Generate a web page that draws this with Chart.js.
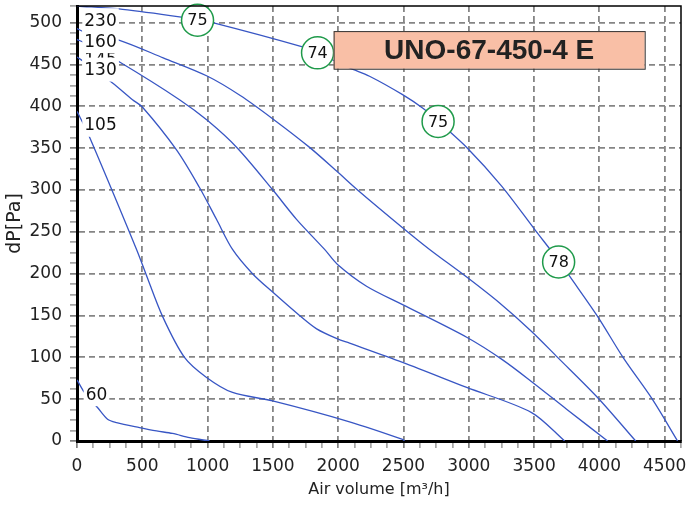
<!DOCTYPE html>
<html>
<head>
<meta charset="utf-8">
<script src="https://cdn.jsdelivr.net/npm/chart.js@4.4.1/dist/chart.umd.min.js"></script>
<style>
    html, body { margin: 0; padding: 0; background: #fff; }
</style>
</head>
<body>
<canvas id="curvasChart" width="700" height="508"></canvas>
<script>
// Curvas de presión por velocidad (caudal m³/h, presión Pa)
const curvaNombres = ['230', '160', '145', '130', '105', '60'];

const caudal230 = [0, 349, 785, 923, 1038, 1727, 1842, 2087, 2240, 2493, 2646, 2765, 2990, 3250, 3504, 3696, 3772, 3986, 4185, 4405, 4599];
const presion230 = [520, 516, 507, 503, 500, 471, 464, 446, 436, 414, 398, 382, 350, 305, 253, 214, 197, 149, 99, 50, 0];

const caudal160 = [0, 57, 326, 660, 1000, 1250, 1500, 1781, 2000, 2164, 2493, 2700, 2984, 3236, 3481, 3680, 3986, 4278];
const presion160 = [493, 489, 479, 458, 436, 413, 385, 351, 321, 298, 255, 229, 196, 165, 131, 100, 52, 0];

const caudal145 = [0, 57, 326, 785, 1000, 1229, 1500, 1681, 1896, 1995, 2217, 2493, 2984, 3259, 3489, 3749, 4063];
const presion145 = [480, 476, 453, 408, 383, 350, 300, 265, 229, 211, 185, 163, 124, 97, 70, 38, 0];

const caudal130 = [0, 57, 272, 425, 502, 762, 938, 1068, 1191, 1344, 1498, 1704, 1835, 1995, 2087, 2493, 2984, 3481, 3734];
const presion130 = [459, 453, 428, 408, 399, 348, 303, 265, 229, 200, 178, 150, 134, 122, 117, 94, 64, 34, 0];

const caudal105 = [0, 80, 456, 527, 655, 823, 992, 1191, 1498, 2087, 2493, 2508];
const presion105 = [394, 369, 229, 200, 149, 100, 76, 58, 48, 23, 2, 0];

const caudal60 = [0, 57, 157, 234, 303, 479, 609, 731, 862, 1015];
const presion60 = [73, 58, 40, 26, 22, 16, 12, 9, 4, 0];

// Marcas de rendimiento (círculos verdes)
const marcaCaudal = [923, 1842, 2765, 3688];
const marcaPresion = [503, 464, 382, 214];
const marcaTexto = ['75', '74', '75', '78'];

const tituloModelo = 'UNO-67-450-4 E';

const curvasCaudal = [caudal230, caudal160, caudal145, caudal130, caudal105, caudal60];
const curvasPresion = [presion230, presion160, presion145, presion130, presion105, presion60];

// Convertir arrays en puntos {x, y}
function armarPuntos(xs, ys) {
    return xs.map((v, i) => ({ x: v, y: ys[i] }));
}

// Etiquetas de curvas (en coordenadas de datos)
const etiquetas = [
    { texto: '145', x: 180, y: 456 },
    { texto: '230', x: 180, y: 503 },
    { texto: '160', x: 180, y: 478 },
    { texto: '130', x: 180, y: 444 },
    { texto: '105', x: 180, y: 378 },
    { texto: '60', x: 149, y: 56 }
];

const pluginAnotaciones = {
    id: 'anotaciones',
    afterDatasetsDraw(chart) {
        const { ctx, chartArea: a } = chart;
        const sx = chart.scales.x;
        const sy = chart.scales.y;
        ctx.save();

        // Marco superior y derecho
        ctx.strokeStyle = '#000';
        ctx.lineWidth = 1.5;
        ctx.beginPath();
        ctx.moveTo(a.left, a.top);
        ctx.lineTo(a.right, a.top);
        ctx.lineTo(a.right, a.bottom);
        ctx.stroke();

        // Etiquetas de velocidad con fondo blanco
        ctx.font = '17px "DejaVu Sans"';
        ctx.textAlign = 'center';
        ctx.textBaseline = 'middle';
        etiquetas.forEach(et => {
            const px = sx.getPixelForValue(et.x);
            const py = sy.getPixelForValue(et.y);
            const w = ctx.measureText(et.texto).width;
            ctx.fillStyle = '#fff';
            ctx.fillRect(px - w / 2 - 2, py - 12, w + 4, 24);
            ctx.fillStyle = '#111';
            ctx.fillText(et.texto, px, py + 1);
        });

        // Texto dentro de los círculos
        const meta = chart.getDatasetMeta(0);
        ctx.font = '16px "DejaVu Sans"';
        meta.data.forEach((p, i) => {
            ctx.fillStyle = '#111';
            ctx.fillText(marcaTexto[i], p.x, p.y + 1);
        });

        // Cuadro con el modelo
        const x1 = sx.getPixelForValue(1965);
        const x2 = sx.getPixelForValue(4347);
        const y1 = sy.getPixelForValue(490);
        const y2 = sy.getPixelForValue(445);
        ctx.fillStyle = '#F9BFA6';
        ctx.fillRect(x1, y1, x2 - x1, y2 - y1);
        ctx.strokeStyle = '#333';
        ctx.lineWidth = 1;
        ctx.strokeRect(x1 + 0.5, y1 + 0.5, x2 - x1, y2 - y1);
        ctx.fillStyle = '#222';
        ctx.font = 'bold 28px "Liberation Sans"';
        ctx.fillText(tituloModelo, (x1 + x2) / 2, (y1 + y2) / 2 + 1);

        ctx.restore();
    }
};

function crearGraficoCurvas() {
    const ctx = document.getElementById('curvasChart').getContext('2d');

    const datasets = [{
        label: 'marcas',
        data: armarPuntos(marcaCaudal, marcaPresion),
        showLine: false,
        pointRadius: 16,
        pointBackgroundColor: '#fff',
        pointBorderColor: '#1f9a4a',
        pointBorderWidth: 1.5,
        clip: false,
        order: 0
    }];
    curvaNombres.forEach((nombre, i) => {
        datasets.push({
            label: nombre,
            data: armarPuntos(curvasCaudal[i], curvasPresion[i]),
            borderColor: '#3856c4',
            borderWidth: 1.3,
            pointRadius: 0,
            fill: false,
            tension: 0.3,
            order: 1
        });
    });

    window.curvasChart = new Chart(ctx, {
        type: 'line',
        data: { datasets },
        options: {
            responsive: false,
            animation: false,
            events: [],
            layout: { autoPadding: false, padding: { top: 6, right: 19, bottom: 0, left: 0 } },
            plugins: {
                legend: { display: false },
                tooltip: { enabled: false }
            },
            scales: {
                x: {
                    type: 'linear',
                    min: 0,
                    max: 4625,
                    ticks: {
                        stepSize: 125,
                        autoSkip: false,
                        maxRotation: 0,
                        padding: 8,
                        color: '#222',
                        font: { family: 'DejaVu Sans', size: 17 },
                        callback: v => (v % 500 === 0 ? String(v) : '')
                    },
                    grid: {
                        color: c => (c.tick && c.tick.value % 500 === 0 && c.tick.value > 0) ? '#858585' : 'transparent',
                        lineWidth: 1.8,
                        tickLength: 7,
                        tickWidth: 1.3,
                        tickColor: c => (c.tick && c.tick.value % 500 === 0) ? '#555' : '#888'
                    },
                    border: { color: '#000', width: 3, dash: [6, 4] },
                    title: {
                        display: true,
                        text: 'Air volume [m³/h]',
                        color: '#222',
                        font: { family: 'DejaVu Sans', size: 16 },
                        padding: { top: 0, bottom: 9 }
                    },
                    afterFit: s => { s.height = 67; s.paddingLeft = 0; s.paddingRight = 0; }
                },
                y: {
                    type: 'linear',
                    min: 0,
                    max: 520,
                    ticks: {
                        stepSize: 12.5,
                        autoSkip: false,
                        padding: 8,
                        color: '#222',
                        font: { family: 'DejaVu Sans', size: 17 },
                        callback: v => (v % 50 === 0 ? String(v) : '')
                    },
                    grid: {
                        color: c => (c.tick && c.tick.value % 50 === 0 && c.tick.value > 0) ? '#858585' : 'transparent',
                        lineWidth: 1.8,
                        tickLength: 7,
                        tickWidth: 1.3,
                        tickColor: c => (c.tick && c.tick.value % 50 === 0) ? '#555' : '#888'
                    },
                    border: { color: '#000', width: 3, dash: [6, 4] },
                    title: {
                        display: true,
                        text: 'dP[Pa]',
                        color: '#222',
                        font: { family: 'DejaVu Sans', size: 19 },
                        padding: { top: 4, bottom: 0 }
                    },
                    afterFit: s => { s.width = 77; s.paddingTop = 0; s.paddingBottom = 0; }
                }
            }
        },
        plugins: [pluginAnotaciones]
    });
}

document.addEventListener('DOMContentLoaded', crearGraficoCurvas);
</script>
</body>
</html>
